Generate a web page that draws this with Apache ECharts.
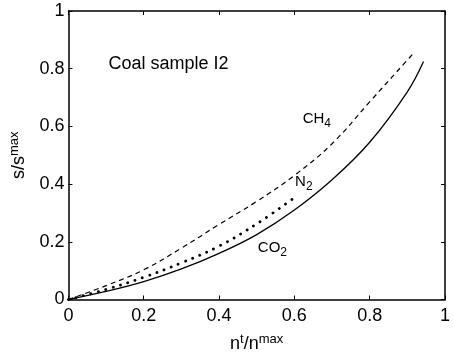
<!DOCTYPE html>
<html>
<head>
<meta charset="utf-8">
<script src="https://cdn.jsdelivr.net/npm/echarts@6/dist/echarts.min.js"></script>
<style>
html,body{margin:0;padding:0;background:#fff;}
#chart{width:453px;height:358px;}
</style>
</head>
<body>
<div id="chart"></div>
<script>
// Data
var co2X = [0, 0.1, 0.2, 0.3, 0.4, 0.5, 0.6, 0.7, 0.8, 0.9, 0.943];
var co2Y = [0, 0.028, 0.062, 0.106, 0.16, 0.225, 0.31, 0.415, 0.545, 0.72, 0.825];
var ch4X = [0, 0.1, 0.2, 0.3, 0.4, 0.5, 0.6, 0.7, 0.8, 0.9, 0.919];
var ch4Y = [0, 0.048, 0.103, 0.178, 0.26, 0.34, 0.43, 0.54, 0.685, 0.83, 0.857];
var n2X = [0, 0.1, 0.2, 0.3, 0.4, 0.5, 0.6];
var n2Y = [0, 0.035, 0.077, 0.127, 0.185, 0.262, 0.353];
var xTicks = [0, 0.2, 0.4, 0.6, 0.8, 1];
var yTicks = [0, 0.2, 0.4, 0.6, 0.8, 1];
// Annotations: [text (rich), x, y, align, fontSize] in data coordinates
var annotations = [
  ['{m|Coal sample I2}', 0.266, 0.817, 'center', 18],
  ['{m|CH}{s|4}', 0.622, 0.627, 'left', 15],
  ['{m|N}{s|2}', 0.602, 0.407, 'left', 15],
  ['{m|CO}{s|2}', 0.503, 0.18, 'left', 15]
];

function zip(xs, ys){ return xs.map(function(x,i){ return [x, ys[i]]; }); }

var FONT = '"Liberation Sans", Arial, Helvetica, sans-serif';
var chart = echarts.init(document.getElementById('chart'), null, {renderer:'canvas'});

function axisBase(pos, showLabels, extra){
  var a = {
    type: 'value', min: 0, max: 1, interval: 0.2, position: pos,
    axisLine: {show: true, onZero: false, lineStyle: {color: '#000', width: 1.5}},
    axisTick: {show: true, inside: true, length: 4, lineStyle: {color: '#000', width: 1}},
    splitLine: {show: false},
    axisLabel: {show: showLabels, color: '#000', fontSize: 18, fontFamily: FONT}
  };
  for (var k in extra) a[k] = extra[k];
  return a;
}

var supRich = {m: {fontSize: 18, fontFamily: FONT, color: '#000'},
               sup: {fontSize: 13, fontFamily: FONT, color: '#000', padding: [0,0,10,0]}};

var option = {
  animation: false,
  backgroundColor: '#fff',
  grid: {left: 67, right: 2, top: 11, bottom: 52, containLabel: false},
  xAxis: [
    axisBase('bottom', true, {
      axisLabel: {show: true, color: '#000', fontSize: 18, fontFamily: FONT, margin: 8},
      name: '{m|n}{sup|t}{m|/n}{sup|max}', nameLocation: 'middle', nameGap: 33,
      nameTextStyle: {color: '#000', fontFamily: FONT, rich: supRich}
    }),
    axisBase('top', false, {})
  ],
  yAxis: [
    axisBase('left', true, {
      axisLabel: {show: true, color: '#000', fontSize: 18, fontFamily: FONT, margin: 4},
      name: '{m|s/s}{sup|max}', nameLocation: 'middle', nameGap: 34, nameRotate: 90,
      nameTextStyle: {color: '#000', fontFamily: FONT, rich: supRich}
    }),
    axisBase('right', false, {})
  ],
  series: [
    {type: 'line', name: 'CO2', data: zip(co2X, co2Y), smooth: 0.4, symbol: 'none',
     lineStyle: {color: '#000', width: 1.3, type: 'solid'}},
    {type: 'line', name: 'CH4', data: zip(ch4X, ch4Y), smooth: 0.4, symbol: 'none',
     lineStyle: {color: '#000', width: 1.2, type: [5, 4]}},
    {type: 'line', name: 'N2', data: zip(n2X, n2Y), smooth: 0.4, symbol: 'none',
     lineStyle: {color: '#000', width: 2.8, type: [0.1, 7.6], cap: 'round'}}
  ]
};
chart.setOption(option);

var g = annotations.map(function(a){
  var p = chart.convertToPixel({gridIndex: 0}, [a[1], a[2]]);
  return {
    type: 'text', x: p[0], y: p[1], silent: true,
    style: {
      text: a[0], align: a[3], verticalAlign: 'middle', fill: '#000',
      rich: {
        m: {fontSize: a[4], fontFamily: FONT, color: '#000'},
        s: {fontSize: 12, fontFamily: FONT, color: '#000', padding: [10,0,0,0]}
      }
    }
  };
});
chart.setOption({graphic: g});
</script>
</body>
</html>
